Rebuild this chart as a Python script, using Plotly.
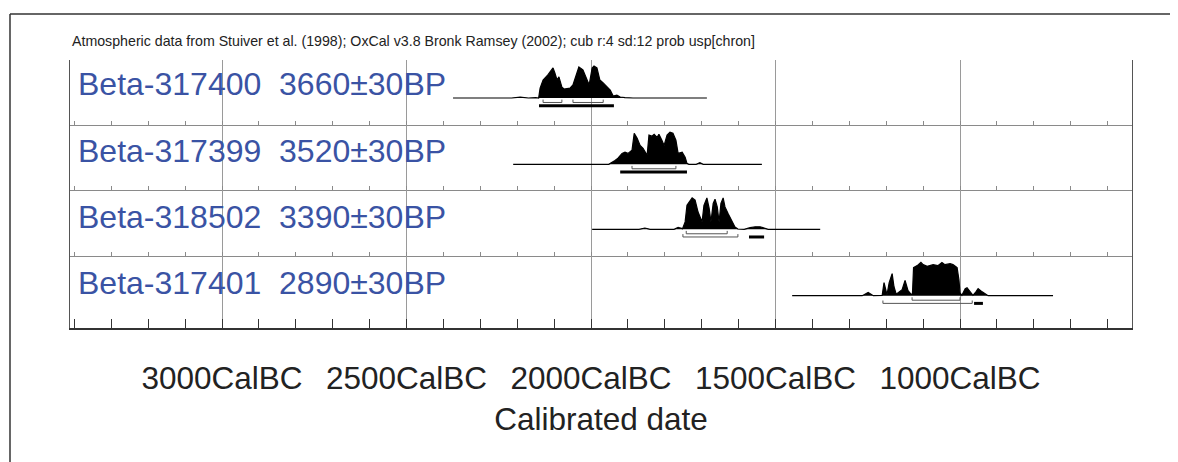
import plotly.graph_objects as go

# ---------------- data ----------------
note = ("Atmospheric data from Stuiver et al. (1998); OxCal v3.8 Bronk Ramsey (2002); "
        "cub r:4 sd:12 prob usp[chron]")
labels = ["Beta-317400  3660±30BP", "Beta-317399  3520±30BP",
          "Beta-318502  3390±30BP", "Beta-317401  2890±30BP"]
tick_years = [-3000, -2500, -2000, -1500, -1000]
tick_labels = ["3000CalBC", "2500CalBC", "2000CalBC", "1500CalBC", "1000CalBC"]
minor_years = list(range(-3400, -500, 100))
x_title = "Calibrated date"
x_range = [-3412, -534]

# Beta-317400  3660±30BP
r1_year = [-2374, -2215, -2192, -2170, -2150, -2142, -2138, -2130, -2117, -2103, -2098,
           -2092, -2087, -2079, -2073, -2057, -2049, -2041, -2033, -2022, -2011, -2005,
           -1997, -1992, -1984, -1976, -1967, -1957, -1948, -1940, -1930, -1921, -1908,
           -1886, -1686]
r1_prob = [0, 0, 0.03, 0, 0.01, 0, 0.31, 0.56, 0.72, 0.94, 0.78,
           0.56, 0.66, 0.34, 0.28, 0.31, 0.41, 0.72, 0.97, 0.88, 0.56, 0.41,
           0.94, 1.0, 0.94, 0.56, 0.47, 0.34, 0.25, 0.06, 0.09, 0.03, 0.01,
           0, 0]
r1_68 = [(-2130, -2079), (-2049, -1967)]
r1_95 = [(-2141, -1938)]

# Beta-317399  3520±30BP
r2_year = [-2211, -1995, -1985, -1975, -1952, -1935, -1927, -1916, -1908, -1900, -1889,
           -1883, -1875, -1867, -1859, -1848, -1843, -1835, -1829, -1821, -1816,
           -1808, -1802, -1794, -1786, -1778, -1770, -1764, -1753, -1745, -1740,
           -1735, -1715, -1705, -1696, -1537]
r2_prob = [0, 0, 0.02, 0, 0, 0.12, 0.19, 0.34, 0.38, 0.34, 0.44,
           0.97, 0.81, 0.59, 0.50, 0.28, 0.91, 0.88, 0.94, 0.84, 0.94,
           0.75, 0.59, 0.91, 1.0, 0.97, 0.75, 0.34, 0.38, 0.22, 0.03,
           0, 0, 0.05, 0, 0]
r2_68 = [(-1889, -1770)]
r2_95 = [(-1921, -1740)]

# Beta-318502  3390±30BP
r3_year = [-1997, -1870, -1854, -1840, -1775, -1764, -1752, -1745, -1740, -1726, -1718,
           -1710, -1699, -1694, -1686, -1680, -1675, -1669, -1664, -1658, -1653,
           -1648, -1642, -1637, -1629, -1618, -1610, -1602, -1585, -1569, -1555,
           -1542, -1528, -1520, -1379]
r3_prob = [0, 0, 0.04, 0, 0, 0.06, 0.02, 0.23, 0.75, 0.98, 0.91,
           0.54, 0.23, 0.75, 0.98, 0.66, 0.23, 0.81, 0.94, 0.70, 0.23,
           0.81, 0.98, 0.70, 0.50, 0.23, 0.07, 0.01, 0, 0.05, 0.08,
           0.08, 0.03, 0, 0]
r3_68 = [(-1742, -1631)]
r3_95 = [(-1751, -1602), (-1572, -1531)]

# Beta-317401  2890±30BP
r4_year = [-1455, -1265, -1249, -1235, -1211, -1206, -1198, -1192, -1184, -1179, -1173,
           -1157, -1149, -1141, -1133, -1129, -1126, -1116, -1106, -1100, -1089,
           -1073, -1060, -1049, -1041, -1027, -1019, -1008, -1003, -1000, -995,
           -986, -981, -973, -965, -957, -951, -940, -924, -748]
r4_prob = [0, 0, 0.10, 0, 0.01, 0.41, 0.03, 0.41, 0.69, 0.28, 0.05,
           0.19, 0.48, 0.16, 0.05, 0.05, 0.88, 0.94, 1.04, 0.97, 0.92,
           0.97, 0.94, 1.04, 0.97, 1.0, 0.97, 0.88, 0.50, 0.09, 0.01,
           0.22, 0.25, 0.12, 0.01, 0.12, 0.22, 0.12, 0, 0]
r4_68 = [(-1130, -1000)]
r4_95 = [(-1209, -967), (-962, -938)]

# ---------------- style / layout ----------------
rows = [(r1_year, r1_prob, r1_68, r1_95),
        (r2_year, r2_prob, r2_68, r2_95),
        (r3_year, r3_prob, r3_68, r3_95),
        (r4_year, r4_prob, r4_68, r4_95)]
thick_95 = [[0], [0], [1], [1]]          # which 95% ranges are drawn as heavy bars
y_domains = [[0.7575, 1.0], [0.5149, 0.7575], [0.2687, 0.5149], [0.0, 0.2687]]
y_ranges = [[-0.844, 1.1875], [-0.803, 1.228], [-0.834, 1.228], [-1.009, 1.241]]
label_y = [0.9123, 0.6586, 0.4142, 0.1679]
lvl68, lvl95, tick_h = -0.14, -0.24, 0.09

FONT = "Liberation Sans, Arial, sans-serif"
BLUE = "#3a53a4"

fig = go.Figure()
for i, (yr, pr, r68, r95) in enumerate(rows):
    sfx = "" if i == 0 else str(i + 1)
    xa, ya = "x" + sfx, "y" + sfx
    fig.add_trace(go.Scatter(x=yr, y=pr, mode="lines", fill="tozeroy",
                             fillcolor="black", line=dict(color="black", width=1.2),
                             xaxis=xa, yaxis=ya, hoverinfo="skip", showlegend=False))
    # thin brackets
    bx, by = [], []
    for a, b in r68:
        bx += [a, a, b, b, None]
        by += [lvl68 + tick_h, lvl68, lvl68, lvl68 + tick_h, None]
    for k, (a, b) in enumerate(r95):
        if k in thick_95[i]:
            continue
        bx += [a, a, b, b, None]
        by += [lvl95 + tick_h, lvl95, lvl95, lvl95 + tick_h, None]
    fig.add_trace(go.Scatter(x=bx, y=by, mode="lines", line=dict(color="#555", width=1),
                             xaxis=xa, yaxis=ya, hoverinfo="skip", showlegend=False))
    tx, ty = [], []
    for k, (a, b) in enumerate(r95):
        if k in thick_95[i]:
            tx += [a, b, None]
            ty += [lvl95, lvl95, None]
    if tx:
        fig.add_trace(go.Scatter(x=tx, y=ty, mode="lines", line=dict(color="black", width=3),
                                 xaxis=xa, yaxis=ya, hoverinfo="skip", showlegend=False))

# page body has an 8px default margin, so the figure is 8px smaller and shifted
layout = dict(width=1170, height=454, margin=dict(l=62, r=46, t=52, b=134),
              paper_bgcolor="white", plot_bgcolor="white", showlegend=False,
              font=dict(family=FONT, color="#222"))

for i in range(4):
    sfx = "" if i == 0 else str(i + 1)
    bottom = (i == 3)
    xa = dict(range=x_range, domain=[0, 1], anchor="y" + sfx,
              tickmode="array", tickvals=tick_years, ticktext=tick_labels,
              showticklabels=bottom, ticks="",
              showgrid=True, gridcolor="#9a9a9a", gridwidth=1, zeroline=False,
              showline=True, linecolor="#333" if bottom else "#8a8a8a",
              linewidth=2 if bottom else 1,
              minor=dict(tickmode="array", tickvals=minor_years, ticks="inside",
                         ticklen=9 if bottom else 4, tickcolor="#333" if bottom else "#8a8a8a",
                         tickwidth=1, showgrid=False),
              fixedrange=True)
    if bottom:
        xa.update(tickfont=dict(size=31.5, family=FONT, color="#222"),
                  ticklabelstandoff=21,
                  title=dict(text=x_title, font=dict(size=31.5, family=FONT, color="#222"),
                             standoff=13))
    layout["xaxis" + sfx] = xa
    layout["yaxis" + sfx] = dict(domain=y_domains[i], range=y_ranges[i], anchor="x" + sfx,
                                 showline=True, mirror=True, linecolor="#555", linewidth=1.2,
                                 showgrid=False, zeroline=False, showticklabels=False,
                                 ticks="", fixedrange=True)
    # top-edge tick axis for each row
    layout["xaxis" + str(i + 5)] = dict(range=x_range, overlaying="x" + sfx, side="top",
                                        anchor="y" + sfx, showgrid=False, zeroline=False,
                                        tickmode="array", tickvals=tick_years, ticks="",
                                        showticklabels=False, showline=True,
                                        linecolor="#7a7a7a" if i == 0 else "#8a8a8a", linewidth=1,
                                        minor=dict(tickmode="array", tickvals=minor_years,
                                                   ticks="inside", ticklen=8 if i == 0 else 5,
                                                   tickcolor="#8a8a8a", tickwidth=1,
                                                   showgrid=False),
                                        fixedrange=True)

fig.update_layout(**layout)

ann = [dict(text=note, x=0, y=1.0709, xref="paper", yref="paper", xanchor="left",
            yanchor="middle", showarrow=False, font=dict(size=14.2, family=FONT, color="#222"))]
for i, lab in enumerate(labels):
    ann.append(dict(text=lab, x=0.006, y=label_y[i], xref="paper", yref="paper",
                    xanchor="left", yanchor="middle", showarrow=False,
                    font=dict(size=32, family=FONT, color=BLUE)))
fig.update_layout(annotations=ann)

# outer frame (top and left edges of the figure box): page x=10, y=14
fig.add_shape(type="line", xref="paper", yref="paper", x0=-0.0565, x1=1.06, y0=1.1716, y1=1.1716,
              line=dict(color="#333", width=1.5))
fig.add_shape(type="line", xref="paper", yref="paper", x0=-0.0565, x1=-0.0565, y0=1.1716, y1=-0.6,
              line=dict(color="#333", width=1.5))

fig.write_html("out.html")
